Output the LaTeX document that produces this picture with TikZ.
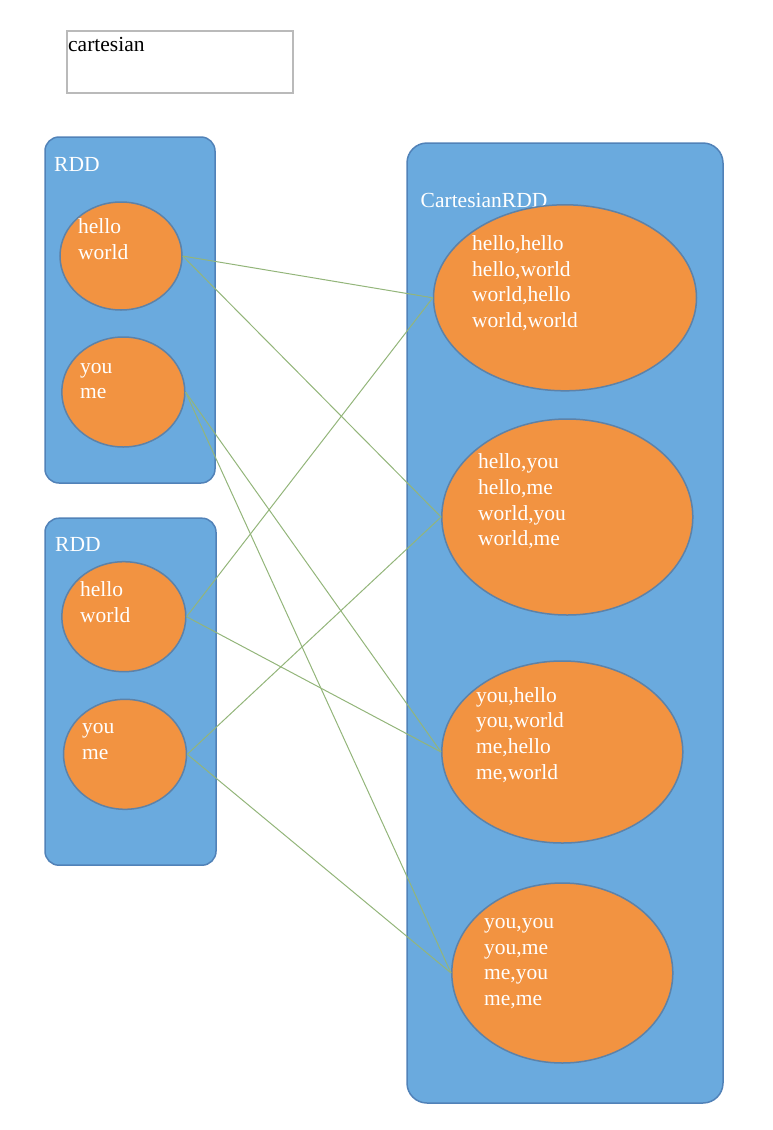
\documentclass[tikz,border=0pt]{standalone}
\usepackage{fontspec}
\setmainfont{Liberation Serif}
\usetikzlibrary{shapes.geometric}
\definecolor{rddBlue}{HTML}{6AAADE}
\definecolor{rddEdge}{HTML}{5182B8}
\definecolor{partOrange}{HTML}{F29341}
\definecolor{partEdge}{HTML}{5D82A8}
\definecolor{linkGreen}{HTML}{93B57A}
\tikzset{
	rddBox/.style={draw=rddEdge, fill=rddBlue, line width=1.5pt, rounded corners=14pt, inner sep=0pt},
	part/.style={ellipse, draw=partEdge, fill=partOrange, line width=1.5pt, inner sep=0pt},
	txt/.style={text=white, align=left, anchor=north west, inner sep=0pt, font=\fontsize{21.5}{25.7}\selectfont},
	link/.style={draw=linkGreen, line width=1pt},
}

\begin{document}
\begin{tikzpicture}[x=1pt,y=-1pt]
				\useasboundingbox (0,0) rectangle (772,1130);
				\node[draw=black!27, line width=2pt, minimum width=226pt, minimum height=62pt, inner sep=0pt] (title) at (180,61.7) {};
				\node[txt, text=black] (titleText) at (68,36.8) {cartesian};
				% input RDDs
				\node[rddBox, minimum width=170pt, minimum height=346pt] (rddA) at (130,310) {};
				\node[rddBox, minimum width=171pt, minimum height=347pt] (rddB) at (130.5,691.7) {};
				\node[txt] (rddAText) at (54,157) {RDD};
				\node[txt] (rddBText) at (55,537) {RDD};
				\node[part, minimum width=122pt, minimum height=108pt] (hwA) at (121,256) {};
				\node[part, minimum width=123pt, minimum height=110pt] (ymA) at (123.3,392) {};
				\node[part, minimum width=124pt, minimum height=110pt] (hwB) at (123.8,616.7) {};
				\node[part, minimum width=123pt, minimum height=110pt] (ymB) at (125,754.3) {};
				\node[txt] (hwAText) at (78,218.3) {hello\\world};
				\node[txt] (ymAText) at (80,362.8) {you\\me};
				\node[txt] (hwBText) at (80,581.3) {hello\\world};
				\node[txt] (ymBText) at (82,723.1) {you\\me};
				% result
				\node[rddBox, rounded corners=20pt, minimum width=316pt, minimum height=960pt] (cart) at (565,623) {};
				\node[txt] (cartText) at (420.5,193.3) {CartesianRDD};
				\node[part, minimum width=263pt, minimum height=186pt] (pOne) at (565,297.8) {};
				\node[part, minimum width=251pt, minimum height=196pt] (pTwo) at (567.3,517) {};
				\node[part, minimum width=241pt, minimum height=182pt] (pThree) at (562.3,752) {};
				\node[part, minimum width=221pt, minimum height=180pt] (pFour) at (562.3,973) {};
				\node[txt] (pOneText) at (472,235.3) {hello,hello\\hello,world\\world,hello\\world,world};
				\node[txt] (pTwoText) at (478,453.6) {hello,you\\hello,me\\world,you\\world,me};
				\node[txt] (pThreeText) at (476,687) {you,hello\\you,world\\me,hello\\me,world};
				\node[txt] (pFourText) at (484,918.1) {you,you\\you,me\\me,you\\me,me};
				\draw[link] (hwA.east) -- (pOne.west);
				\draw[link] (hwA.east) -- (pTwo.west);
				\draw[link] (ymA.east) -- (pThree.west);
				\draw[link] (ymA.east) -- (pFour.west);
				\draw[link] (hwB.east) -- (pOne.west);
				\draw[link] (hwB.east) -- (pThree.west);
				\draw[link] (ymB.east) -- (pTwo.west);
				\draw[link] (ymB.east) -- (pFour.west);
\end{tikzpicture}
\end{document}
